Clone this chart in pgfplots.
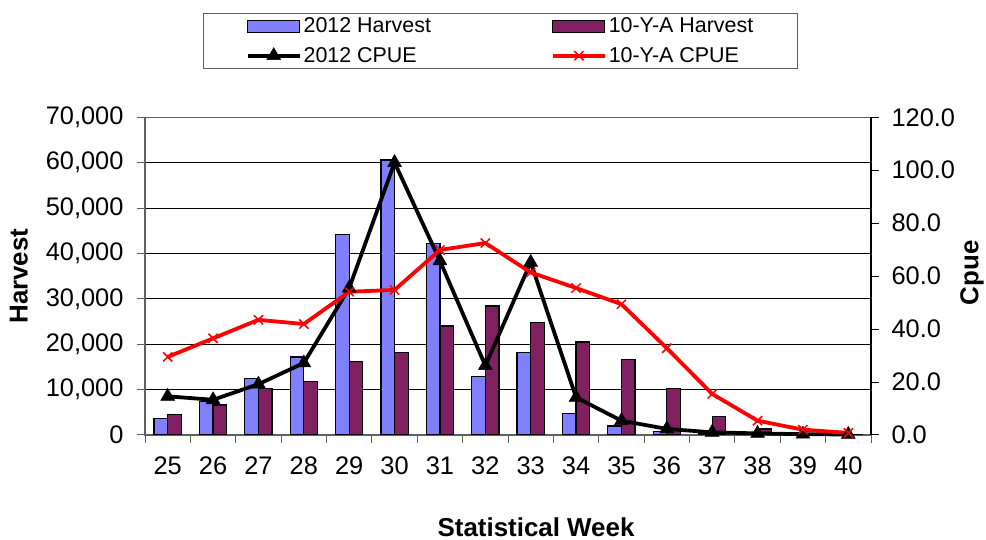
\documentclass[border=0pt]{standalone}
\usepackage{fontspec}
\setmainfont{Liberation Sans}
\usepackage{pgfplots}
\usepackage{pgfplotstable}
\pgfplotsset{compat=1.18}
\definecolor{barblue}{HTML}{8080FF}
\definecolor{barplum}{HTML}{802060}
\definecolor{axgray}{HTML}{606060}

\pgfplotstableread{
w  h12   h10   c12   c10
25 3700  4600  14.6  29.5
26 7300  6600  13.3  36.5
27 12500 10300 19.2  43.5
28 17200 11800 27.2  41.9
29 44100 16200 55.5  54.1
30 60600 18100 102.9 54.8
31 42200 24000 65.8  69.9
32 12800 28400 26.2  72.5
33 18200 24700 65.2  61.4
34 4800  20500 14.2  55.5
35 2000  16700 5.4   49.4
36 800   10300 2.3   32.8
37 200   4000  1.0   15.5
38 100   1300  0.6   5.4
39 50    300   0.3   2.0
40 0     100   0.2   0.8
}\data

\begin{document}
\begin{tikzpicture}[x=1bp,y=1bp]
\useasboundingbox (0,0) rectangle (986,540);
\begin{axis}[
  at={(145bp,105bp)}, anchor=south west, scale only axis,
  width=726bp, height=317.7bp,
  xmin=24.5, xmax=40.5, ymin=0, ymax=70000,
  xtick={25,...,40},
  minor xtick={24.5,25.5,...,40.5},
  major x tick style={draw=none},
  minor x tick style={axgray, line width=1pt},
  ytick={0,10000,...,70000},
  ytick pos=left, xtick pos=bottom, tick align=outside,
  major tick length=8bp, minor tick length=8bp,
  y tick style={axgray, line width=1pt},
  axis line style={axgray, line width=1.2pt},
  ymajorgrids, grid style={black, line width=0.8pt},
  scaled y ticks=false,
  ticklabel style={font=\fontsize{25.5}{30}\selectfont},
  yticklabel style={/pgf/number format/.cd, fixed, 1000 sep={,}, assume math mode=true, /tikz/.cd, xshift=-10bp},
  xticklabel style={/pgf/number format/assume math mode=true, yshift=-10bp},
  ylabel={\bfseries Harvest},
  ylabel style={at={(axis description cs:-0.1736,0.5)}, anchor=center, inner sep=0pt, font=\fontsize{26}{30}\selectfont},
  xlabel={\bfseries Statistical Week},
  xlabel style={at={(axis description cs:0.5386,-0.2896)}, anchor=center, inner sep=0pt, font=\fontsize{26}{30}\selectfont},
]
\addplot[ybar, bar width=0.3, bar shift=-0.15, fill=barblue, draw=black, line width=1.2pt] table[x=w,y=h12]{\data};
\addplot[ybar, bar width=0.3, bar shift=0.15, fill=barplum, draw=black, line width=1.2pt] table[x=w,y=h10]{\data};
\end{axis}
\begin{axis}[
  at={(145bp,105bp)}, anchor=south west, scale only axis,
  width=726bp, height=317.7bp,
  xmin=24.5, xmax=40.5, ymin=0, ymax=120,
  axis y line*=right, axis x line=none,
  ytick={0,20,...,120}, tick align=outside, major tick length=8bp,
  y tick style={black, line width=1pt},
  axis line style={black, line width=1.2pt},
  ticklabel style={font=\fontsize{25.5}{30}\selectfont},
  yticklabel style={/pgf/number format/.cd, fixed, fixed zerofill, precision=1, assume math mode=true, /tikz/.cd, xshift=9bp},
  ylabel={\bfseries Cpue},
  ylabel style={at={(axis description cs:1.139,0.51)}, anchor=center, inner sep=0pt, rotate=0, font=\fontsize{26}{30}\selectfont},
  legend image code/.code={\draw[mark repeat=2,mark phase=2,#1] plot coordinates {(0bp,0bp) (26bp,0bp) (52bp,0bp)};},
  legend style={at={(0.4897,1.2402)}, anchor=center, draw=axgray, line width=1pt,
    font=\fontsize{21.5}{25}\selectfont, inner xsep=42bp, inner ysep=3bp, row sep=9bp,
    /tikz/every even column/.append style={column sep=118bp}},
  legend columns=2, legend cell align=left,
  clip=false,
]
\addlegendimage{legend image code/.code={\draw[fill=barblue,draw=black,line width=1.2pt] (0bp,-6bp) rectangle (52bp,6bp);}}
\addlegendentry{2012 Harvest}
\addlegendimage{legend image code/.code={\draw[fill=barplum,draw=black,line width=1.2pt] (0bp,-6bp) rectangle (52bp,6bp);}}
\addlegendentry{10-Y-A Harvest}
\addplot[black, line width=3.8pt, mark=triangle*, mark size=8bp, mark options={line width=0.5pt, solid}] table[x=w,y=c12]{\data};
\addlegendentry{2012 CPUE}
\addplot[red, line width=3.8pt, mark=x, mark size=6.5bp, mark options={line width=1.5pt, solid}] table[x=w,y=c10]{\data};
\addlegendentry{10-Y-A CPUE}
\end{axis}
\end{tikzpicture}
\end{document}
